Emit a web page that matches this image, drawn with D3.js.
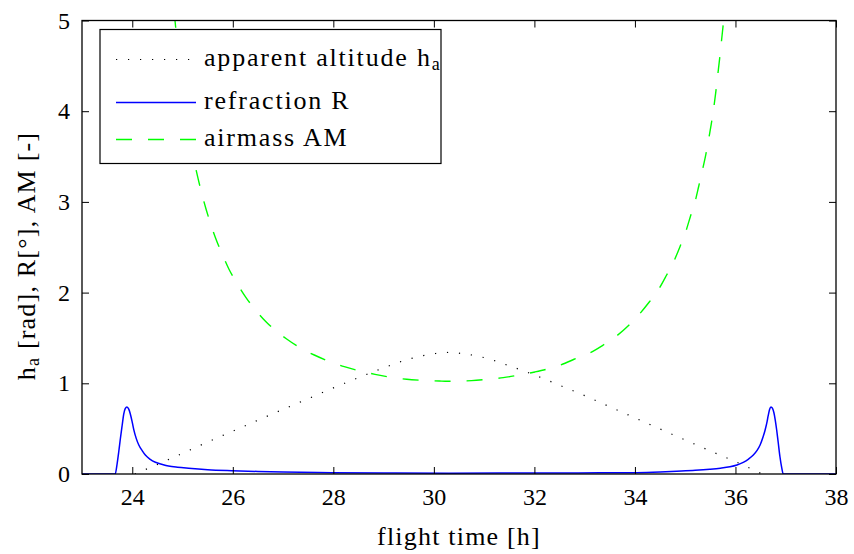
<!DOCTYPE html>
<html>
<head>
<meta charset="utf-8">
<script src="https://cdn.jsdelivr.net/npm/d3@7"></script>
</head>
<body style="margin:0">
<svg id="chart" width="854" height="554"></svg>
<script>
// Flight time axis [h]
const xTicks = [24, 26, 28, 30, 32, 34, 36, 38];
const yTicks = [0, 1, 2, 3, 4, 5];

// Apparent altitude h_a [rad]
const altTime  = [24.05, 24.5, 25.0, 25.5, 26.0, 26.5, 27.0, 27.5, 28.0, 28.5, 29.0, 29.5, 30.0, 30.25, 30.5, 31.0, 31.5, 32.0, 32.5, 33.0, 33.5, 34.0, 34.5, 35.0, 35.5, 36.0, 36.53];
const altValue = [0.0, 0.106, 0.228, 0.352, 0.473, 0.593, 0.713, 0.830, 0.949, 1.062, 1.170, 1.266, 1.326, 1.340, 1.332, 1.283, 1.193, 1.092, 0.979, 0.864, 0.741, 0.619, 0.496, 0.375, 0.254, 0.136, 0.0];

// Refraction R [deg]
const refrTime  = [23.0, 23.66, 23.70, 23.73, 23.76, 23.80, 23.83, 23.86, 23.895, 23.93, 23.96, 24.0, 24.03, 24.08, 24.13, 24.2, 24.26, 24.35, 24.46, 24.6, 24.72, 24.9, 25.12, 25.5, 25.98, 26.5, 27.0, 27.97, 29.0, 30.3, 31.5, 32.5, 33.3, 34.03, 34.5, 34.83, 35.2, 35.49, 35.7, 35.89, 36.03, 36.155, 36.26, 36.355, 36.43, 36.49, 36.55, 36.59, 36.63, 36.65, 36.68, 36.706, 36.735, 36.765, 36.79, 36.82, 36.85, 36.885, 36.92, 36.95, 38.0];
const refrValue = [0.0, 0.0, 0.118, 0.24, 0.375, 0.54, 0.66, 0.72, 0.739, 0.715, 0.665, 0.57, 0.49, 0.39, 0.32, 0.255, 0.209, 0.165, 0.129, 0.105, 0.088, 0.074, 0.063, 0.048, 0.037, 0.028, 0.022, 0.015, 0.011, 0.009, 0.011, 0.012, 0.013, 0.015, 0.022, 0.030, 0.040, 0.052, 0.064, 0.080, 0.100, 0.129, 0.165, 0.209, 0.260, 0.320, 0.410, 0.485, 0.580, 0.640, 0.715, 0.739, 0.725, 0.675, 0.600, 0.485, 0.350, 0.190, 0.070, 0.0, 0.0];

// Airmass AM [-]
const amTime  = [24.72, 24.85, 24.95, 25.05, 25.15, 25.25, 25.313, 25.381, 25.473, 25.56, 25.672, 25.791, 25.924, 26.077, 26.256, 26.436, 26.66, 27.072, 27.357, 27.621, 27.933, 28.218, 28.53, 28.83, 29.147, 29.46, 29.79, 30.11, 30.27, 30.44, 30.75, 31.07, 31.38, 31.70, 32.01, 32.31, 32.61, 32.79, 33.09, 33.37, 33.617, 33.868, 34.086, 34.285, 34.472, 34.631, 34.776, 34.896, 35.015, 35.108, 35.2, 35.268, 35.347, 35.413, 35.47, 35.513, 35.566, 35.606, 35.652, 35.685, 35.725, 35.757, 35.77, 35.84];
const amValue = [5.8, 5.0, 4.47, 4.02, 3.68, 3.40, 3.249, 3.095, 2.911, 2.756, 2.580, 2.422, 2.257, 2.109, 1.951, 1.819, 1.679, 1.488, 1.386, 1.312, 1.238, 1.183, 1.136, 1.099, 1.066, 1.044, 1.033, 1.025, 1.022, 1.025, 1.029, 1.044, 1.062, 1.092, 1.125, 1.165, 1.221, 1.265, 1.331, 1.422, 1.514, 1.635, 1.761, 1.896, 2.036, 2.194, 2.348, 2.506, 2.679, 2.848, 3.01, 3.17, 3.36, 3.53, 3.70, 3.84, 4.03, 4.20, 4.42, 4.58, 4.79, 4.96, 5.03, 5.5];

const FONT = "Liberation Serif";

const svg = d3.select("#chart").attr("font-family", FONT);
const plot = { left: 82, top: 20.5, right: 836, bottom: 474 };

const x = d3.scaleLinear().domain([23, 38]).range([plot.left, plot.right]);
const y = d3.scaleLinear().domain([0, 5]).range([plot.bottom, plot.top]);

svg.append("defs").append("clipPath").attr("id", "plot-clip")
  .append("rect")
  .attr("x", plot.left).attr("y", plot.top)
  .attr("width", plot.right - plot.left).attr("height", plot.bottom - plot.top);

const line = d3.line().x(d => x(d[0])).y(d => y(d[1])).curve(d3.curveMonotoneX);
const zipSeries = (t, v) => t.map((ti, i) => [ti, v[i]]);

const curves = svg.append("g").attr("clip-path", "url(#plot-clip)");

const styles = {
  alt:  { stroke: "#000", width: 1.2, dash: "1.2,10.8" },
  refr: { stroke: "#0000ff", width: 1.5, dash: null },
  am:   { stroke: "#00ff00", width: 1.4, dash: "16,16" }
};

function drawCurve(data, st) {
  curves.append("path")
    .datum(data)
    .attr("fill", "none")
    .attr("stroke", st.stroke)
    .attr("stroke-width", st.width)
    .attr("stroke-dasharray", st.dash)
    .attr("d", line);
}

drawCurve(zipSeries(amTime, amValue), styles.am);
drawCurve(zipSeries(altTime, altValue), styles.alt);
drawCurve(zipSeries(refrTime, refrValue), styles.refr);

// Axes: ticks point inward, mirrored on top/right
const tickLen = 7;
const axes = svg.append("g");

const xBottom = d3.axisBottom(x).tickValues(xTicks).tickFormat(d3.format("d")).tickSizeInner(-tickLen).tickSizeOuter(0).tickPadding(14);
const xTop = d3.axisTop(x).tickValues(xTicks).tickSizeInner(-tickLen).tickSizeOuter(0).tickFormat("");
const yLeft = d3.axisLeft(y).tickValues(yTicks).tickFormat(d3.format("d")).tickSizeInner(-tickLen).tickSizeOuter(0).tickPadding(12);
const yRight = d3.axisRight(y).tickValues(yTicks).tickSizeInner(-tickLen).tickSizeOuter(0).tickFormat("");

function styleAxis(g) {
  g.attr("font-family", FONT).attr("font-size", 24);
  g.select(".domain").remove();
  g.selectAll(".tick line").attr("stroke", "#000").attr("stroke-width", 1);
  g.selectAll(".tick text").attr("fill", "#000");
}

axes.append("g").attr("transform", `translate(0,${plot.bottom})`).call(xBottom).call(styleAxis);
axes.append("g").attr("transform", `translate(0,${plot.top})`).call(xTop).call(styleAxis);
axes.append("g").attr("transform", `translate(${plot.left},0)`).call(yLeft).call(styleAxis);
axes.append("g").attr("transform", `translate(${plot.right},0)`).call(yRight).call(styleAxis);

// Legend
const legend = svg.append("g");
legend.append("rect")
  .attr("x", 100).attr("y", 29.5).attr("width", 341).attr("height", 134)
  .attr("fill", "#fff").attr("stroke", "#000").attr("stroke-width", 1.2);

const legendItems = [
  { key: "alt",  label: "apparent altitude h", sub: "a", ly: 59.5, ty: 66 },
  { key: "refr", label: "refraction R", sub: null, ly: 102.5, ty: 109 },
  { key: "am",   label: "airmass AM", sub: null, ly: 139.5, ty: 146 }
];

legendItems.forEach(it => {
  const st = styles[it.key];
  legend.append("line")
    .attr("x1", 116).attr("x2", 196).attr("y1", it.ly).attr("y2", it.ly)
    .attr("stroke", st.stroke).attr("stroke-width", st.width)
    .attr("stroke-dasharray", st.dash);
  const t = legend.append("text")
    .attr("x", 204).attr("y", it.ty)
    .attr("font-size", 26)
    .attr("letter-spacing", 1.8)
    .text(it.label);
  if (it.sub) {
    t.append("tspan").attr("dy", 4).attr("font-size", 18).attr("letter-spacing", 0).text(it.sub);
  }
});

// Axis labels
svg.append("text")
  .attr("x", (plot.left + plot.right) / 2).attr("y", 545)
  .attr("text-anchor", "middle")
  .attr("font-size", 26).attr("letter-spacing", 1.2)
  .text("flight time [h]");

const yl = svg.append("text")
  .attr("transform", "translate(35,256) rotate(-90)")
  .attr("text-anchor", "middle")
  .attr("font-size", 26).attr("letter-spacing", 1.2);
yl.append("tspan").text("h");
yl.append("tspan").attr("dy", 4).attr("font-size", 18).text("a");
yl.append("tspan").attr("dy", -4).text(" [rad], R[°], AM [-]");

// Plot frame
svg.append("rect")
  .attr("x", plot.left).attr("y", plot.top)
  .attr("width", plot.right - plot.left).attr("height", plot.bottom - plot.top)
  .attr("fill", "none").attr("stroke", "#000").attr("stroke-width", 1.3);
</script>
</body>
</html>
